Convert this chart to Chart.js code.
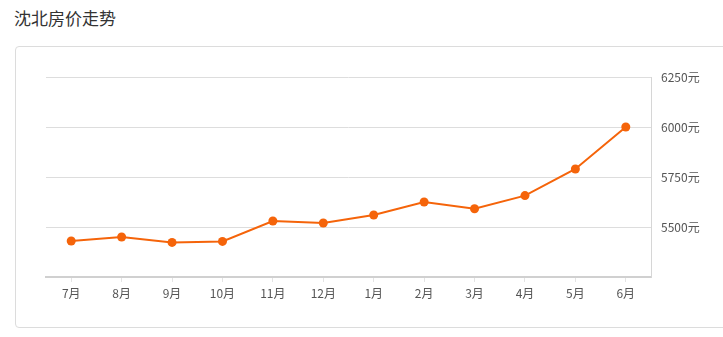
<!DOCTYPE html>
<html>
<head>
<meta charset="utf-8">
<script src="https://cdn.jsdelivr.net/npm/chart.js@4/dist/chart.umd.min.js"></script>
<style>
  html, body { margin: 0; padding: 0; background: #fff; width: 723px; height: 337px; overflow: hidden; }
  #title { position: absolute; left: 14px; top: 5px; font: 17px "Noto Sans CJK SC", sans-serif; color: #333; line-height: 26px; }
  #box { position: absolute; left: 15px; top: 46px; width: 740px; height: 282px; border: 1px solid #dcdcdc; border-radius: 4px; box-sizing: border-box; }
  #wrap { position: absolute; left: 0; top: 0; width: 723px; height: 337px; }
</style>
</head>
<body>
<div id="title">沈北房价走势</div>
<div id="box"></div>
<div id="wrap"><canvas id="c"></canvas></div>
<script>
const months = ['7月','8月','9月','10月','11月','12月','1月','2月','3月','4月','5月','6月'];
const prices = [5430, 5450, 5423, 5428, 5530, 5520, 5560, 5625, 5591, 5657, 5790, 6000];
const yMin = 5250, yMax = 6250, yStep = 250;
const yUnit = '元';

new Chart(document.getElementById('c'), {
  type: 'line',
  data: {
    labels: months,
    datasets: [{
      data: prices,
      borderColor: '#f5640a',
      backgroundColor: '#f5640a',
      borderWidth: 2,
      pointRadius: 4.5,
      pointHoverRadius: 4.5,
      pointBorderWidth: 0,
      tension: 0,
      fill: false
    }]
  },
  options: {
    responsive: true,
    maintainAspectRatio: false,
    animation: false,
    layout: { padding: { left: 46, top: 77, right: 0, bottom: 0 } },
    plugins: { legend: { display: false }, tooltip: { enabled: false } },
    scales: {
      x: {
        offset: true,
        afterFit: s => { s.height = 60; },
        grid: { offset: false, drawOnChartArea: false, drawTicks: true, tickLength: 5, color: '#e4e4e4' },
        border: { display: true, color: '#d0d0d0', width: 2 },
        ticks: { color: '#555', padding: 4, font: { family: '"Noto Sans CJK SC", sans-serif', size: 12 }, maxRotation: 0 }
      },
      y: {
        position: 'right',
        min: yMin, max: yMax,
        afterFit: s => { s.width = 72; },
        grid: { color: '#dddddd', drawTicks: false, lineWidth: 1 },
        border: { display: true, color: '#d6d6d6', width: 1 },
        ticks: {
          stepSize: yStep,
          padding: 10,
          color: '#555',
          font: { family: '"Noto Sans CJK SC", sans-serif', size: 12 },
          callback: v => v === yMin ? '' : v + yUnit
        }
      }
    }
  }
});
</script>
</body>
</html>
